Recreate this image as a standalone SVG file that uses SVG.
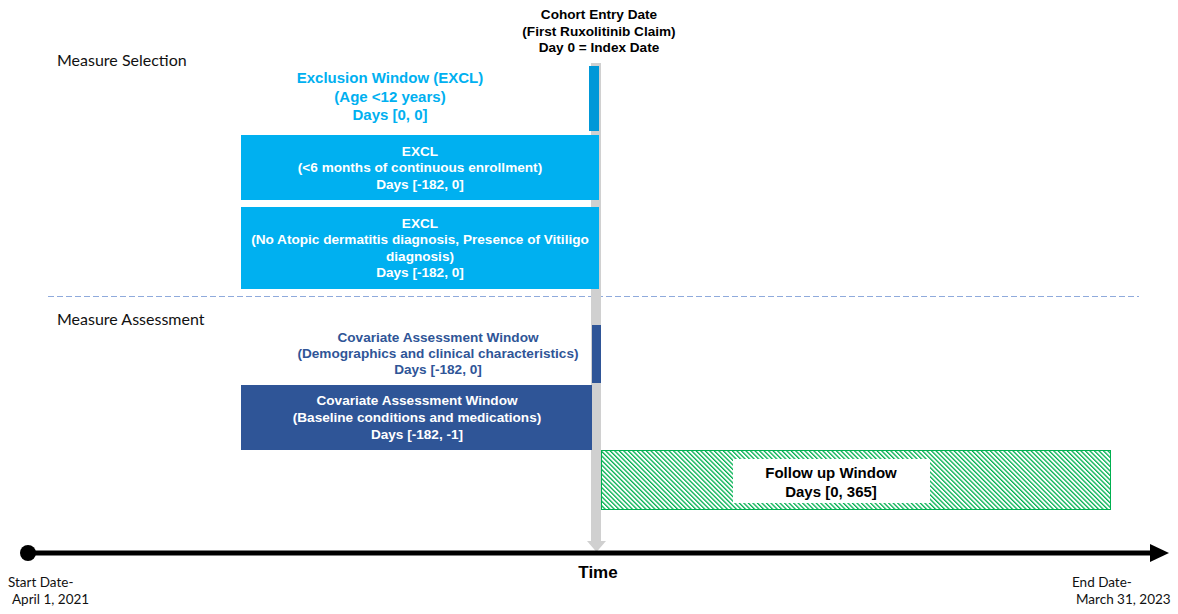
<svg xmlns="http://www.w3.org/2000/svg" width="1178" height="614" viewBox="0 0 1178 614">
<style>
.b{font-family:"Liberation Sans",Arial,sans-serif;font-weight:bold;font-size:13.6px;text-anchor:middle}
.w{fill:#fff}
.lb{fill:#00B0F0}
.db{fill:#2F5597}
.k{fill:#000}
.c{font-family:Lato,"Open Sans",sans-serif;font-size:16px;fill:#111}
.s{font-family:Lato,"Open Sans",sans-serif;font-size:13.5px;fill:#111}
</style>
<defs>
<pattern id="hatch" patternUnits="userSpaceOnUse" width="3.2" height="3.2" patternTransform="rotate(-45)">
<rect width="3.2" height="3.2" fill="#fff"/>
<rect x="0" y="0" width="1.3" height="3.2" fill="#00B050"/>
</pattern>
</defs>
<rect width="1178" height="614" fill="#fff"/>
<g id="labels">
<text class="c" x="57" y="66">Measure Selection</text>
<text class="c" x="57" y="325">Measure Assessment</text>
<text class="b k" x="599" y="19">Cohort Entry Date</text>
<text class="b k" x="599" y="36">(First Ruxolitinib Claim)</text>
<text class="b k" x="599" y="52">Day 0 = Index Date</text>
</g>
<g id="divider">
<line x1="48" y1="296.5" x2="1139" y2="296.5" stroke="#8FAADC" stroke-width="1" stroke-dasharray="6,3"/>
</g>
<g id="index-line">
<rect x="591" y="63" width="10" height="480" fill="#D0D0D0"/>
<polygon points="587,541 606,541 596.5,552" fill="#D0D0D0"/>
</g>
<g id="excl-age">
<rect x="589" y="66" width="10" height="65" fill="#0098D8"/>
<text class="b lb" x="390" y="83" style="font-size:15px">Exclusion Window (EXCL)</text>
<text class="b lb" x="390" y="102" style="font-size:15px">(Age &lt;12 years)</text>
<text class="b lb" x="390" y="120" style="font-size:15px">Days [0, 0]</text>
</g>
<g id="excl-enroll">
<rect x="241" y="135" width="358" height="65" fill="#00B0F0"/>
<text class="b w" x="420" y="156">EXCL</text>
<text class="b w" x="420" y="172">(&lt;6 months of continuous enrollment)</text>
<text class="b w" x="420" y="189">Days [-182, 0]</text>
</g>
<g id="excl-diag">
<rect x="241" y="207" width="358" height="82" fill="#00B0F0"/>
<text class="b w" x="420" y="228">EXCL</text>
<text class="b w" x="420" y="244">(No Atopic dermatitis diagnosis, Presence of Vitiligo</text>
<text class="b w" x="420" y="261">diagnosis)</text>
<text class="b w" x="420" y="277">Days [-182, 0]</text>
</g>
<g id="cov-demo">
<rect x="592" y="325" width="9" height="58" fill="#2F5597"/>
<text class="b db" x="438" y="342">Covariate Assessment Window</text>
<text class="b db" x="438" y="358">(Demographics and clinical characteristics)</text>
<text class="b db" x="438" y="374">Days [-182, 0]</text>
</g>
<g id="cov-base">
<rect x="241" y="385" width="351" height="65" fill="#2F5597"/>
<text class="b w" x="417" y="405">Covariate Assessment Window</text>
<text class="b w" x="417" y="422">(Baseline conditions and medications)</text>
<text class="b w" x="417" y="439">Days [-182, -1]</text>
</g>
<g id="follow-up">
<rect x="601.5" y="450.5" width="509" height="59" fill="url(#hatch)" stroke="#00B050" stroke-width="1"/>
<rect x="733" y="459" width="197" height="44" fill="#fff"/>
<text class="b k" x="831" y="478" style="font-size:15px">Follow up Window</text>
<text class="b k" x="831" y="497" style="font-size:15px">Days [0, 365]</text>
</g>
<g id="timeline">
<line x1="28" y1="553" x2="1152" y2="553" stroke="#000" stroke-width="5"/>
<circle cx="28" cy="553" r="8" fill="#000"/>
<polygon points="1150,544 1169,553 1150,562" fill="#000"/>
<text class="b k" x="598" y="578" style="font-size:17px">Time</text>
<text class="s" x="8" y="587">Start Date-</text>
<text class="s" x="12" y="604">April 1, 2021</text>
<text class="s" x="1072" y="587">End Date-</text>
<text class="s" x="1076" y="604">March 31, 2023</text>
</g>
</svg>
